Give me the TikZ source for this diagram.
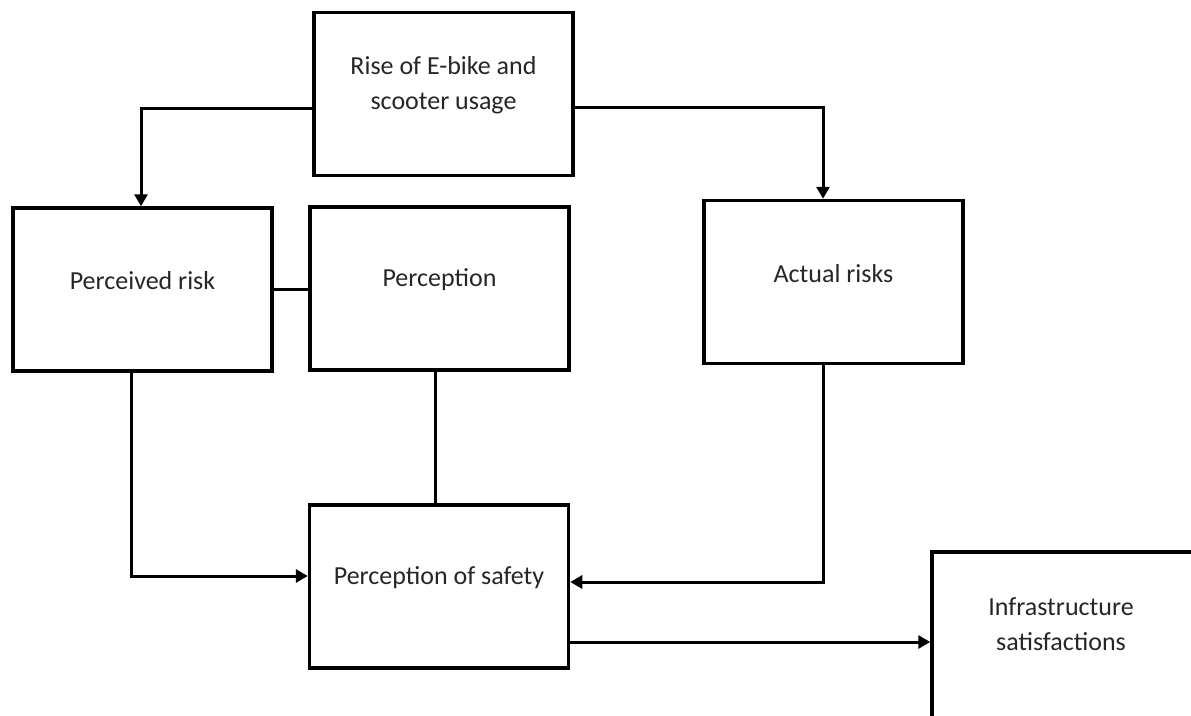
\documentclass[tikz,border=0pt]{standalone}
\usepackage{fontspec}
\setmainfont{Carlito}
\usetikzlibrary{arrows.meta}

\tikzset{
  stage/.style={draw=black, line width=3.5pt, minimum width=259pt, minimum height=163pt, inner sep=0pt},
  stagetext/.style={align=center, text=black!85, font=\fontsize{26}{35}\selectfont},
  link/.style={line width=3pt},
  arr/.style={link, -{Triangle[length=12pt,width=13pt]}}
}

\begin{document}
\begin{tikzpicture}[x=1pt,y=-1pt]
    \useasboundingbox (0,0) rectangle (1191,715);
    % Boxes
    \node[stage] (rise) at (443.5,94) {};
    \node[stagetext] (rise-t) at (443.5,85) {Rise of E-bike and\\scooter usage};
    \node[stage] (prisk) at (142.5,289.5) {};
    \node[stagetext] (prisk-t) at (142.5,281) {Perceived risk};
    \node[stage] (percep) at (439.5,288.5) {};
    \node[stagetext] (percep-t) at (439.5,280) {Perception};
    \node[stage] (arisk) at (833.5,282) {};
    \node[stagetext] (arisk-t) at (833.5,274) {Actual risks};
    \node[stage] (safety) at (439,586.5) {};
    \node[stagetext] (safety-t) at (439,578) {Perception of safety};
    \node[stage, minimum width=262pt, minimum height=166pt] (infra) at (1063,635) {};
    \node[stagetext] (infra-t) at (1061,624.5) {Infrastructure\\satisfactions};
    % Links
    \draw[arr] ([yshift=-14pt]rise.west) -| ([xshift=-1.5pt]prisk.north);
    \draw[arr] ([yshift=-13pt]rise.east) -| ([xshift=-10.5pt]arisk.north);
    \draw[link] (prisk.east) -- (prisk.east -| percep.west);
    \draw[link] ([xshift=-4.5pt]percep.south) -- ([xshift=-4.5pt]percep.south |- safety.north);
    \draw[arr] ([xshift=-11.5pt]prisk.south) |- ([yshift=10.5pt]safety.west);
    \draw[arr] ([xshift=-10.5pt]arisk.south) |- ([yshift=4.5pt]safety.east);
    \draw[arr] ([yshift=-55.5pt]safety.east) -- ([yshift=-55.5pt]safety.east -| infra.west);
\end{tikzpicture}
\end{document}
